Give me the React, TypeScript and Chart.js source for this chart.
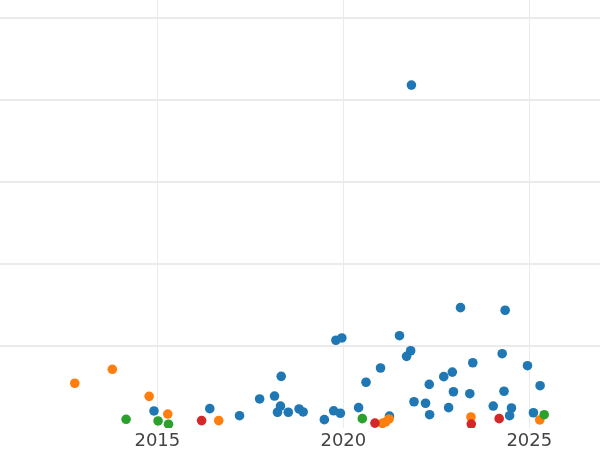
import React, { useEffect, useRef } from "react";
import { Chart, registerables } from "chart.js";

Chart.register(...registerables);

const xTickValues = [2015, 2020, 2025];
const yTickValues = [50, 100, 150, 200, 250];

const blueX = [2021.83, 2023.15, 2024.35, 2019.8, 2019.96, 2021.51, 2021.81, 2021.7, 2023.48, 2024.27, 2024.95, 2021.0, 2018.33, 2022.93, 2022.7, 2020.61, 2022.31, 2025.29, 2017.75, 2018.15, 2022.96, 2023.4, 2024.32, 2018.31, 2018.23, 2018.52, 2018.81, 2018.92, 2020.41, 2014.91, 2016.41, 2017.21, 2019.49, 2019.74, 2019.92, 2021.24, 2021.9, 2022.21, 2022.32, 2022.83, 2024.03, 2024.52, 2024.47, 2025.11];
const blueY = [209.1, 73.4, 71.8, 53.5, 54.9, 56.3, 47.1, 43.7, 39.8, 45.3, 38.0, 36.6, 31.5, 34.1, 31.3, 27.9, 26.6, 25.8, 17.7, 19.5, 22.1, 20.9, 22.4, 13.4, 9.6, 9.6, 11.6, 9.8, 12.4, 10.4, 11.8, 7.5, 5.1, 10.5, 9.0, 7.3, 16.0, 15.1, 8.1, 12.4, 13.4, 12.2, 7.5, 9.3];

const orangeX = [2012.78, 2013.79, 2014.78, 2015.28, 2016.65, 2021.05, 2021.14, 2021.23, 2023.43, 2025.28];
const orangeY = [27.3, 35.8, 19.3, 8.5, 4.5, 2.9, 3.7, 5.5, 6.7, 4.9];

const greenX = [2014.16, 2015.02, 2015.3, 2020.51, 2025.4];
const greenY = [5.3, 4.3, 2.3, 5.7, 8.1];

const redX = [2016.19, 2020.85, 2023.44, 2024.19];
const redY = [4.5, 3.0, 2.4, 5.7];

const seriesColors = ["#1f77b4", "#ff7f0e", "#2ca02c", "#d62728"];

function pts(xs: number[], ys: number[]) {
  return xs.map((x, i) => ({ x, y: ys[i] }));
}

export default function App() {
  const ref = useRef<HTMLCanvasElement | null>(null);
  useEffect(() => {
    if (!ref.current) return;
    const mk = (label: string, xs: number[], ys: number[], color: string, order: number) => ({
      label,
      data: pts(xs, ys),
      backgroundColor: color,
      borderColor: color,
      borderWidth: 0,
      pointRadius: 4.8,
      pointHoverRadius: 4.8,
      order,
      clip: 0,
    });
    const chart = new Chart(ref.current, {
      type: "scatter",
      data: {
        datasets: [
          mk("blue", blueX, blueY, seriesColors[0], 4),
          mk("orange", orangeX, orangeY, seriesColors[1], 3),
          mk("green", greenX, greenY, seriesColors[2], 2),
          mk("red", redX, redY, seriesColors[3], 1),
        ],
      },
      options: {
        animation: false,
        responsive: false,
        layout: { padding: 0, autoPadding: false },
        plugins: { legend: { display: false }, tooltip: { enabled: false } },
        scales: {
          x: {
            type: "linear",
            min: 2010.77,
            max: 2026.9,
            afterBuildTicks: (s: any) => {
              s.ticks = xTickValues.map((v) => ({ value: v }));
            },
            afterFit: (s: any) => {
              s.height = 22;
            },
            grid: { color: "#ebebeb", lineWidth: 1, drawTicks: false },
            border: { display: false },
            ticks: {
              color: "#444",
              padding: 3,
              maxRotation: 0,
              autoSkip: false,
              font: { family: "DejaVu Sans", size: 18 },
              callback: (v: any) => String(v),
            },
          },
          y: {
            type: "linear",
            min: 0,
            max: 261,
            afterBuildTicks: (s: any) => {
              s.ticks = yTickValues.map((v) => ({ value: v }));
            },
            afterFit: (s: any) => {
              s.width = 0;
            },
            grid: { color: "#ebebeb", lineWidth: 2, drawTicks: false },
            border: { display: false },
            ticks: { display: false },
          },
        },
      },
    } as any);
    return () => chart.destroy();
  }, []);
  return (
    <div style={{ position: "fixed", left: 0, top: 0, width: 600, height: 450, background: "#fff" }}>
      <canvas ref={ref} width={600} height={450} />
    </div>
  );
}
